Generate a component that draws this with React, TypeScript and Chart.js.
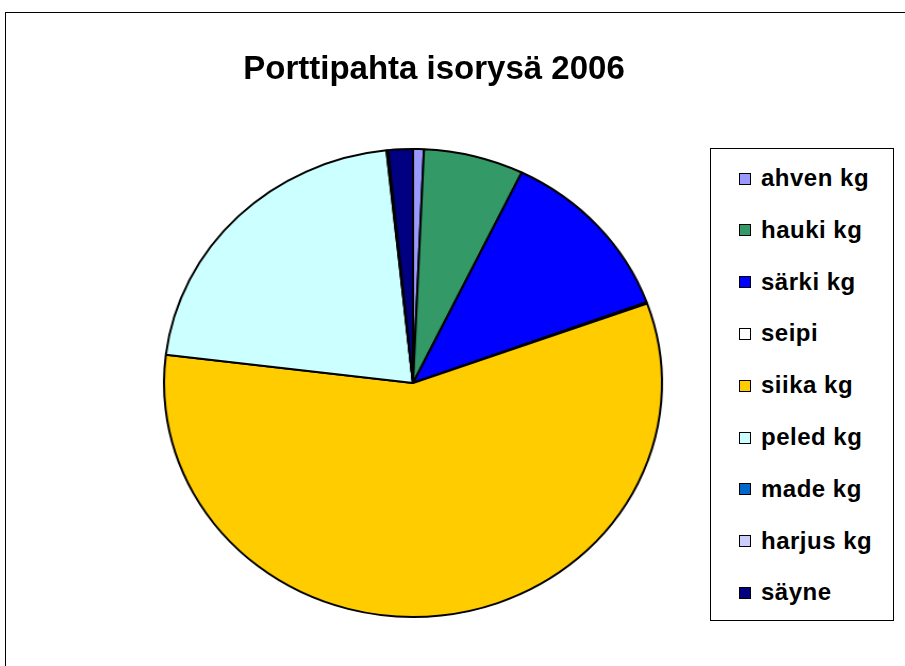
import React, { useEffect, useRef } from "react";
import { Chart, registerables } from "chart.js";

Chart.register(...registerables);

const TITLE = "Porttipahta isorysä 2006";
const CATEGORIES = ["ahven kg", "hauki kg", "särki kg", "seipi", "siika kg", "peled kg", "made kg", "harjus kg", "säyne"];
const VALUES = [70, 650, 1220, 10, 5750, 2140, 5, 5, 160];
const COLORS = ["#9999FF", "#339966", "#0000FF", "#FFFFFF", "#FFCC00", "#CCFFFF", "#0066CC", "#CCCCFF", "#000080"];

const FONT = '"Liberation Sans", Arial, Helvetica, sans-serif';

export default function App() {
  const canvasRef = useRef<HTMLCanvasElement | null>(null);

  useEffect(() => {
    const canvas = canvasRef.current;
    if (!canvas) return;
    const chart = new Chart(canvas, {
      type: "pie",
      data: {
        labels: CATEGORIES,
        datasets: [
          {
            data: VALUES,
            backgroundColor: COLORS,
            borderColor: "#000000",
            borderWidth: 2,
          },
        ],
      },
      options: {
        responsive: false,
        animation: false,
        devicePixelRatio: 1,
        layout: { padding: { left: 178, right: 257, top: 148, bottom: 48 } },
        plugins: {
          legend: { display: false },
          title: { display: false },
          tooltip: { enabled: false },
        },
      },
    });
    return () => chart.destroy();
  }, []);

  const legendTop = 166;
  const legendStep = 51.8;

  return (
    <div
      style={{
        position: "fixed",
        left: 0,
        top: 0,
        width: 905,
        height: 666,
        overflow: "hidden",
        background: "#ffffff",
        fontFamily: FONT,
      }}
    >
      <div
        style={{
          position: "absolute",
          left: 5,
          top: 12,
          width: 1000,
          height: 1000,
          border: "1px solid #000",
          boxSizing: "border-box",
        }}
      />
      <div
        style={{
          position: "absolute",
          left: 0,
          top: 0,
          width: 905,
          height: 666,
          transform: "scaleX(1.064)",
          transformOrigin: "413px 383px",
        }}
      >
        <canvas ref={canvasRef} width={905} height={666} />
      </div>
      <div
        style={{
          position: "absolute",
          left: 0,
          width: 868,
          top: 51,
          textAlign: "center",
          fontSize: 33,
          lineHeight: "33px",
          fontWeight: "bold",
          color: "#000",
          whiteSpace: "nowrap",
        }}
      >
        {TITLE}
      </div>
      <div
        style={{
          position: "absolute",
          left: 710,
          top: 148,
          width: 184,
          height: 473,
          border: "1px solid #000",
          boxSizing: "border-box",
          background: "#fff",
        }}
      />
      {CATEGORIES.map((c, i) => (
        <div
          key={c}
          style={{
            position: "absolute",
            left: 739,
            top: legendTop + i * legendStep,
            height: 24,
            display: "flex",
            alignItems: "center",
            whiteSpace: "nowrap",
          }}
        >
          <div
            style={{
              width: 12,
              height: 12,
              background: COLORS[i],
              border: "1.5px solid #000",
              boxSizing: "border-box",
              marginRight: 10,
              marginTop: 1,
            }}
          />
          <span
            style={{
              fontSize: 24,
              lineHeight: "24px",
              fontWeight: "bold",
              color: "#000",
              letterSpacing: "0.5px",
            }}
          >
            {c}
          </span>
        </div>
      ))}
    </div>
  );
}
